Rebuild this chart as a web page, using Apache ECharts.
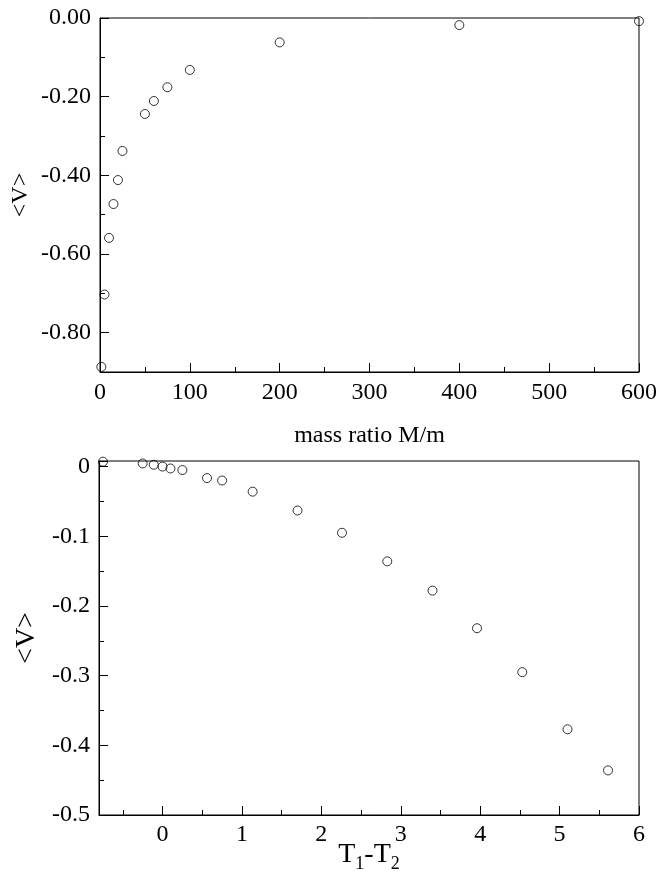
<!DOCTYPE html>
<html>
<head>
<meta charset="utf-8">
<script src="https://cdn.jsdelivr.net/npm/echarts@6/dist/echarts.min.js"></script>
<style>html,body{margin:0;padding:0;background:#fff}#c{width:660px;height:878px}</style>
</head>
<body>
<div id="c"></div>
<script>
// ---- Data ----
const massRatio = [1.5, 5, 10, 15, 20, 25, 50, 60, 75, 100, 200, 400, 600];
const vMass = [-0.887, -0.703, -0.559, -0.473, -0.412, -0.338, -0.244, -0.211, -0.176, -0.132, -0.062, -0.018, -0.008];

const tempDiff = [-0.75, -0.25, -0.11, 0.0, 0.10, 0.25, 0.56, 0.75, 1.135, 1.70, 2.26, 2.83, 3.40, 3.96, 4.53, 5.10, 5.61];
const vTemp = [0.007, 0.0045, 0.0026, 0.0, -0.0027, -0.005, -0.0165, -0.020, -0.036, -0.063, -0.095, -0.136, -0.178, -0.232, -0.295, -0.377, -0.436];

// axis ranges / tick steps
const topXRange = [0, 600], topXStep = 100;
const topYRange = [-0.9, 0], topYStep = 0.2, topYMinor = 0.1;
const botXRange = [-0.8, 6], botXStep = 1, botXMinor = 0.5;
const botYRange = [-0.5, 0.008], botYStep = 0.1;

const FONT = 'Liberation Serif';
const BLACK = '#000';

// ---- Layout (pixels) ----
const T = {left: 100, top: 18, width: 540, height: 354};
const B = {left: 99, top: 461, width: 540, height: 354};

function sub(g, lo, hi, axis, range) {
  // sub-rectangle of grid g that spans [lo,hi] of the given range
  const span = range[1] - range[0];
  if (axis === 'x') {
    return {left: g.left + g.width * (lo - range[0]) / span, top: g.top,
            width: g.width * (hi - lo) / span, height: g.height};
  }
  return {left: g.left, width: g.width,
          top: g.top + g.height * (range[1] - hi) / span,
          height: g.height * (hi - lo) / span};
}

const tYMajorMin = Math.ceil(topYRange[0] / topYStep - 1e-9) * topYStep; // -0.8
const gT1 = sub(T, tYMajorMin, topYRange[1], 'y', topYRange);
const bXMinorMin = Math.ceil(botXRange[0] / botXMinor - 1e-9) * botXMinor; // -0.5
const bXMajorMin = Math.ceil(botXRange[0] / botXStep - 1e-9) * botXStep; // 0
const gB3 = sub(B, bXMinorMin, botXRange[1], 'x', botXRange);
const gB4 = sub(B, bXMajorMin, botXRange[1], 'x', botXRange);

const lbl = {fontFamily: FONT, fontSize: 24, color: BLACK};
const line = {show: true, onZero: false, lineStyle: {color: BLACK, width: 1}};
const noLine = {show: false, onZero: false};
const hidden = {show: false};

const option = {
  animation: false,
  textStyle: {fontFamily: FONT, color: BLACK},
  grid: [
    Object.assign({show: true, borderColor: BLACK, borderWidth: 1, backgroundColor: 'transparent'}, T),
    Object.assign({show: false}, gT1),
    Object.assign({show: true, borderColor: BLACK, borderWidth: 1, backgroundColor: 'transparent'}, B),
    Object.assign({show: false}, gB3),
    Object.assign({show: false}, gB4)
  ],
  xAxis: [
    {gridIndex: 0, type: 'value', min: topXRange[0], max: topXRange[1], interval: topXStep,
     axisLine: line, splitLine: hidden,
     axisTick: {show: true, inside: true, length: 9, lineStyle: {color: BLACK}},
     minorTick: {show: true, splitNumber: 2, length: 5, lineStyle: {color: BLACK}},
     axisLabel: Object.assign({margin: 9}, lbl),
     name: 'mass ratio M/m', nameLocation: 'middle', nameGap: 52,
     nameTextStyle: {fontFamily: FONT, fontSize: 24, color: BLACK}},
    {gridIndex: 1, type: 'value', min: topXRange[0], max: topXRange[1], show: false},
    {gridIndex: 2, type: 'value', min: botXRange[0], max: botXRange[1],
     axisLine: line, splitLine: hidden, axisTick: hidden, axisLabel: hidden,
     name: '{a|T}{b|1}{a|-T}{b|2}', nameLocation: 'middle', nameGap: 26,
     nameTextStyle: {rich: {
       a: {fontFamily: FONT, fontSize: 28, lineHeight: 28, color: BLACK, verticalAlign: 'top'},
       b: {fontFamily: FONT, fontSize: 18, lineHeight: 18, color: BLACK, verticalAlign: 'top', padding: [14, 0, 0, 0]}
     }}},
    {gridIndex: 3, type: 'value', min: bXMinorMin, max: botXRange[1], interval: botXMinor,
     axisLine: noLine, splitLine: hidden,
     axisTick: {show: true, inside: true, length: 5, lineStyle: {color: BLACK}},
     axisLabel: hidden},
    {gridIndex: 4, type: 'value', min: bXMajorMin, max: botXRange[1], interval: botXStep,
     axisLine: noLine, splitLine: hidden,
     axisTick: {show: true, inside: true, length: 9, lineStyle: {color: BLACK}},
     axisLabel: Object.assign({margin: 8, formatter: v => String(Math.round(v))}, lbl)}
  ],
  yAxis: [
    {gridIndex: 0, type: 'value', min: topYRange[0], max: topYRange[1], interval: topYMinor,
     axisLine: line, splitLine: hidden,
     axisTick: {show: true, inside: true, length: 5, lineStyle: {color: BLACK}},
     axisLabel: hidden,
     name: '<V>', nameLocation: 'middle', nameRotate: 90, nameGap: 67,
     nameTextStyle: {fontFamily: FONT, fontSize: 24, color: BLACK}},
    {gridIndex: 1, type: 'value', min: tYMajorMin, max: topYRange[1], interval: topYStep,
     axisLine: noLine, splitLine: hidden,
     axisTick: {show: true, inside: true, length: 9, lineStyle: {color: BLACK}},
     axisLabel: Object.assign({margin: 9, formatter: v => (Math.abs(v) < 1e-9 ? 0 : v).toFixed(2)}, lbl)},
    {gridIndex: 2, type: 'value', min: botYRange[0], max: botYRange[1], interval: botYStep,
     axisLine: line, splitLine: hidden,
     axisTick: {show: true, inside: true, length: 9, lineStyle: {color: BLACK}},
     minorTick: {show: true, splitNumber: 2, length: 5, lineStyle: {color: BLACK}},
     axisLabel: Object.assign({margin: 9, formatter: v => {
       if (v > 1e-6) return '';
       if (Math.abs(v) < 1e-9) return '0';
       return v.toFixed(1);
     }}, lbl),
     name: '<V>', nameLocation: 'middle', nameRotate: 90, nameGap: 46,
     nameTextStyle: {fontFamily: FONT, fontSize: 28, color: BLACK}},
    {gridIndex: 3, type: 'value', min: 0, max: 1, show: false},
    {gridIndex: 4, type: 'value', min: 0, max: 1, show: false}
  ],
  series: [
    {type: 'scatter', xAxisIndex: 0, yAxisIndex: 0, clip: false,
     data: massRatio.map((x, i) => [x, vMass[i]]),
     symbol: 'circle', symbolSize: 9,
     itemStyle: {color: 'rgba(0,0,0,0)', borderColor: BLACK, borderWidth: 1},
     emphasis: {disabled: true}},
    {type: 'scatter', xAxisIndex: 2, yAxisIndex: 2, clip: false,
     data: tempDiff.map((x, i) => [x, vTemp[i]]),
     symbol: 'circle', symbolSize: 9,
     itemStyle: {color: 'rgba(0,0,0,0)', borderColor: BLACK, borderWidth: 1},
     emphasis: {disabled: true}}
  ]
};

const chart = echarts.init(document.getElementById('c'), null, {renderer: 'canvas'});
chart.setOption(option);
</script>
</body>
</html>
